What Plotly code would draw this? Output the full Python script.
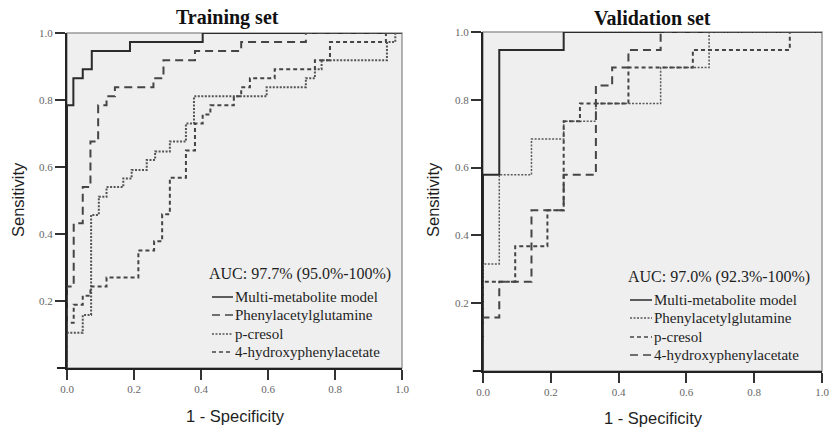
import plotly.graph_objects as go

# ---------------- data (ROC operating points: 1-specificity, sensitivity) ----------------
series_names = ["Multi-metabolite model", "Phenylacetylglutamine", "p-cresol", "4-hydroxyphenylacetate"]

# Training set
train_multi_fpr = [0, 0, 0.019, 0.047, 0.074, 0.188, 0.405, 1]
train_multi_tpr = [0, 0.784, 0.865, 0.892, 0.946, 0.973, 1.0, 1.0]

train_pag_fpr = [0, 0, 0.02, 0.047, 0.07, 0.093, 0.118, 0.143, 0.258, 0.288, 0.382, 0.52, 0.713, 1]
train_pag_tpr = [0, 0.243, 0.432, 0.54, 0.676, 0.784, 0.811, 0.838, 0.865, 0.919, 0.946, 0.973, 1.0, 1.0]

train_pc_fpr = [0, 0, 0.047, 0.072, 0.095, 0.118, 0.168, 0.193, 0.238, 0.263, 0.307, 0.355, 0.379,
                0.596, 0.713, 0.74, 0.76, 0.955, 0.98, 1]
train_pc_tpr = [0, 0.105, 0.158, 0.457, 0.511, 0.54, 0.566, 0.591, 0.621, 0.646, 0.676, 0.73, 0.811,
                0.838, 0.865, 0.892, 0.919, 0.973, 1.0, 1.0]

train_hpa_fpr = [0, 0, 0.02, 0.047, 0.07, 0.118, 0.213, 0.26, 0.284, 0.307, 0.355, 0.382, 0.405, 0.428,
                 0.498, 0.52, 0.546, 0.62, 0.74, 0.785, 0.952, 1]
train_hpa_tpr = [0, 0.135, 0.189, 0.216, 0.243, 0.27, 0.351, 0.378, 0.459, 0.568, 0.649, 0.73, 0.757, 0.784,
                 0.811, 0.838, 0.865, 0.892, 0.919, 0.973, 1.0, 1.0]

# Validation set
val_multi_fpr = [0, 0, 0.048, 0.238, 1]
val_multi_tpr = [0, 0.579, 0.947, 1.0, 1.0]

val_pag_fpr = [0, 0, 0.048, 0.143, 0.238, 0.333, 0.524, 0.667, 1]
val_pag_tpr = [0, 0.316, 0.579, 0.684, 0.737, 0.789, 0.895, 1.0, 1.0]

val_pc_fpr = [0, 0, 0.095, 0.19, 0.238, 0.286, 0.429, 0.619, 0.905, 1]
val_pc_tpr = [0, 0.263, 0.368, 0.474, 0.737, 0.789, 0.895, 0.947, 1.0, 1.0]

val_hpa_fpr = [0, 0, 0.048, 0.143, 0.238, 0.333, 0.381, 0.429, 0.524, 1]
val_hpa_tpr = [0, 0.158, 0.263, 0.474, 0.579, 0.842, 0.895, 0.947, 1.0, 1.0]

x_ticks = [0.0, 0.2, 0.4, 0.6, 0.8, 1.0]
y_ticks = [0.2, 0.4, 0.6, 0.8, 1.0]

panel_titles = ["Training set", "Validation set"]
auc_texts = ["AUC: 97.7% (95.0%-100%)", "AUC: 97.0% (92.3%-100%)"]

# ---------------- styles ----------------
SOLID = dict(color="#2b2b2b", width=2, dash="solid")
LONG = dict(color="#454545", width=2, dash="8px,5px")
SHORT = dict(color="#454545", width=2, dash="4px,3px")
DOT = dict(color="#555555", width=2, dash="2px,1.5px")
DOT_THIN = dict(color="#5a5a5a", width=1.5, dash="2px,1.5px")

W, H = 830, 436

fig = go.Figure()

left = [
    (train_multi_fpr, train_multi_tpr, SOLID),
    (train_pag_fpr, train_pag_tpr, LONG),
    (train_pc_fpr, train_pc_tpr, DOT),
    (train_hpa_fpr, train_hpa_tpr, SHORT),
]
right = [
    (val_multi_fpr, val_multi_tpr, SOLID),
    (val_pag_fpr, val_pag_tpr, DOT_THIN),
    (val_pc_fpr, val_pc_tpr, SHORT),
    (val_hpa_fpr, val_hpa_tpr, LONG),
]

for name, (fx, ty, st) in zip(series_names, left):
    fig.add_trace(go.Scatter(x=fx, y=ty, mode="lines", name=name, line=dict(shape="hv", **st),
                             xaxis="x", yaxis="y", showlegend=False))
for name, (fx, ty, st) in zip(series_names, right):
    fig.add_trace(go.Scatter(x=fx, y=ty, mode="lines", name=name, line=dict(shape="hv", **st),
                             xaxis="x2", yaxis="y2", showlegend=False))

tickfont = dict(family="Liberation Serif", size=11, color="#666666")

def axis(domain, anchor, vals):
    return dict(domain=domain, range=[0, 1], anchor=anchor, tickvals=vals,
                ticktext=[f"{v:.1f}" for v in vals], ticks="outside", ticklen=10, tickwidth=1.5,
                tickcolor="#333333", showline=True, linecolor="#222222", linewidth=2,
                showgrid=False, zeroline=False, tickfont=tickfont, fixedrange=True, automargin=False)

lx = [67 / W, 402 / W]
rx = [483 / W, 822 / W]
ly = [(H - 368) / H, (H - 33) / H]
ry = [(H - 371) / H, (H - 32) / H]

name_font = dict(family="Liberation Serif", size=15, color="#1e1e1e")
auc_font = dict(family="Liberation Serif", size=16, color="#1e1e1e")

fig.update_layout(
    width=W, height=H,
    margin=dict(l=0, r=0, t=0, b=0, autoexpand=False),
    paper_bgcolor="white",
    plot_bgcolor="#efefef",
    xaxis=axis(lx, "y", x_ticks), yaxis=axis(ly, "x", y_ticks),
    xaxis2=axis(rx, "y2", x_ticks), yaxis2=axis(ry, "x2", y_ticks),
    showlegend=False,
)

# plot-area border (top / right)
for xr, yr in (("x domain", "y domain"), ("x2 domain", "y2 domain")):
    fig.add_shape(type="rect", xref=xr, yref=yr, x0=0, x1=1, y0=0, y1=1,
                  line=dict(color="#9a9a9a", width=1.5), layer="below")
    # SPSS-style x axis line extending left of the y axis
    fig.add_shape(type="line", xref=xr, yref=yr, x0=-0.03, x1=0, y0=0, y1=0,
                  line=dict(color="#222222", width=2))

def txt(text, x, y, font, xanchor="center", angle=0):
    return dict(text=text, x=x / W, y=(H - y) / H, xref="paper", yref="paper", xanchor=xanchor,
                yanchor="middle", showarrow=False, font=font, textangle=angle, borderpad=0)

annos = []
for title, cx in zip(panel_titles, [227, 652]):
    annos.append(txt(f"<b>{title}</b>", cx, 18, dict(family="Liberation Serif", size=20, color="#111111")))
axis_font = dict(family="Liberation Sans", size=16.5, color="#1e1e1e")
for cx, cy in ((235, 416), (653, 418)):
    annos.append(txt("1 - Specificity", cx, cy, axis_font))
for cx in (18, 433):
    annos.append(txt("Sensitivity", cx, 200, axis_font, angle=-90))

# legend blocks (AUC line + one row per series), drawn in figure coordinates
legend_blocks = [
    dict(auc=auc_texts[0], x_text=208, y_auc=274, y_rows=[297, 315, 334, 352], x_s0=212, x_s1=233,
         styles=[SOLID, LONG, DOT, SHORT]),
    dict(auc=auc_texts[1], x_text=627, y_auc=277, y_rows=[300, 318, 337, 355], x_s0=630, x_s1=652,
         styles=[SOLID, DOT_THIN, SHORT, LONG]),
]
for blk in legend_blocks:
    annos.append(txt(blk["auc"], blk["x_text"], blk["y_auc"], auc_font, xanchor="left"))
    for name, yrow, st in zip(series_names, blk["y_rows"], blk["styles"]):
        fig.add_shape(type="line", xref="paper", yref="paper", x0=blk["x_s0"] / W, x1=blk["x_s1"] / W,
                      y0=(H - yrow) / H, y1=(H - yrow) / H,
                      line=dict(color=st["color"], width=min(st["width"], 1.5), dash=st["dash"]))
        annos.append(txt(name, blk["x_s1"] + 1, yrow, name_font, xanchor="left"))
fig.update_layout(annotations=annos)

fig.write_html("out.html", config={"displayModeBar": False},
               post_script="document.body.style.margin='0';document.body.style.overflow='hidden';")
